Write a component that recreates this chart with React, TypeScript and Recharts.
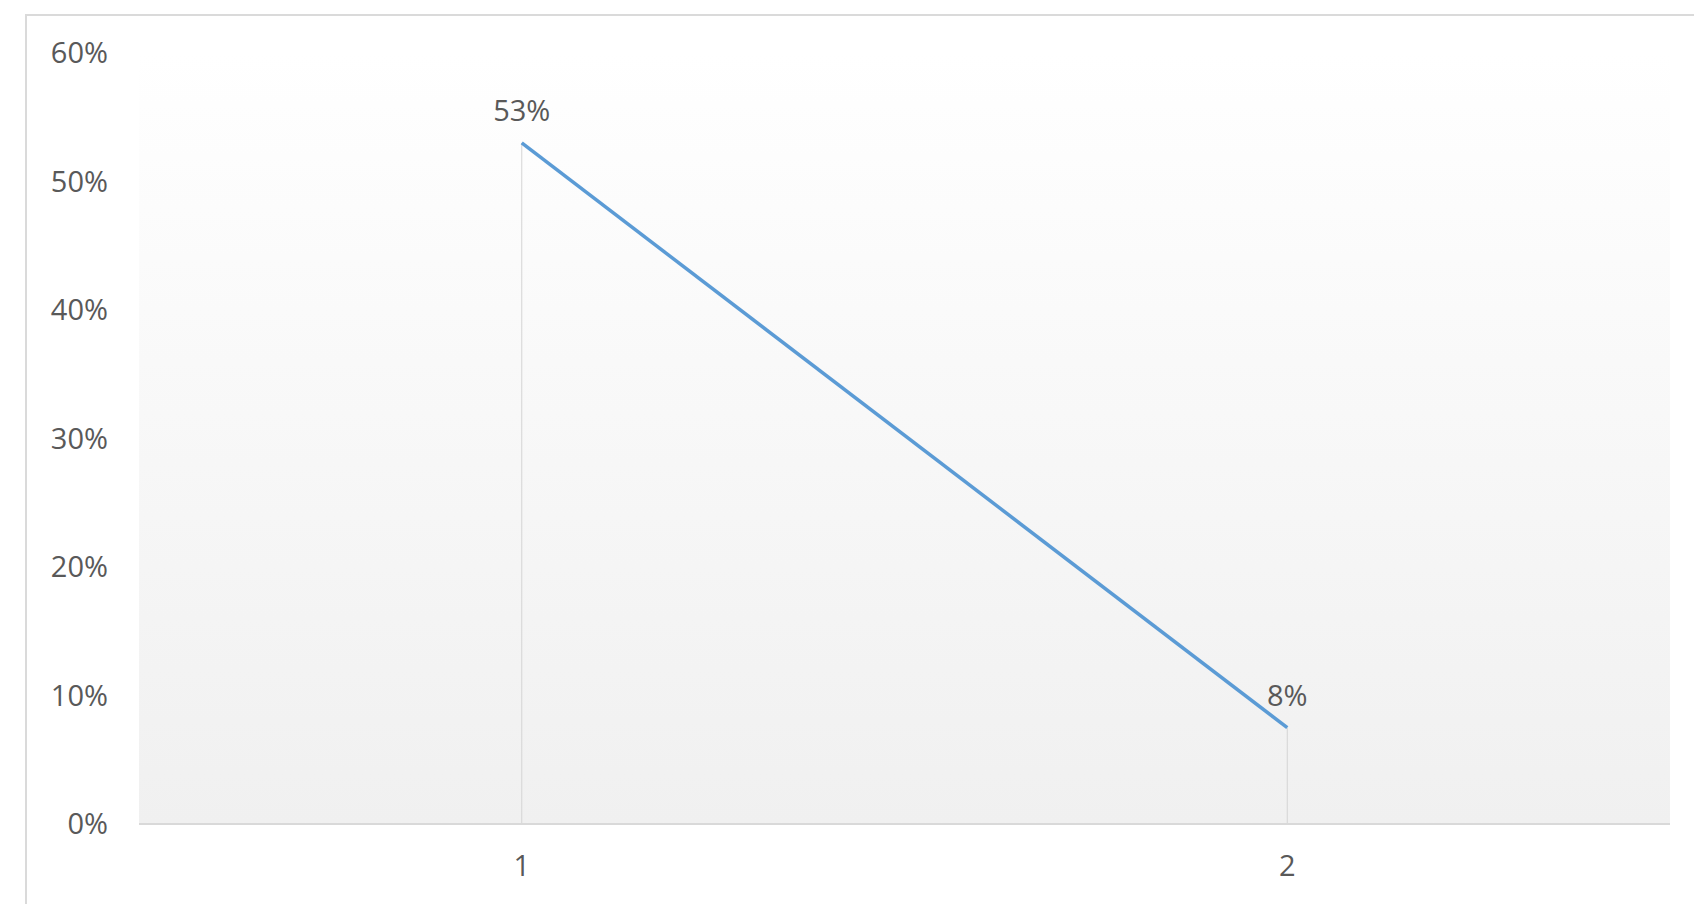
import React from "react";
import {
  LineChart,
  Line,
  CartesianGrid,
  XAxis,
  YAxis,
  ReferenceLine,
  LabelList
} from "recharts";

const categories = ["1", "2"];
const shares = [53, 7.5];
const yTicks = [0, 10, 20, 30, 40, 50, 60];

const data = categories.map((cat, i) => ({ cat, value: shares[i] }));

const FONT = "'Open Sans', 'Noto Sans', sans-serif";
const TEXT = "#595959";

const pct = (v: number) => `${Math.round(v)}%`;

export default function App() {
  return (
    <div
      style={{
        position: "fixed",
        left: 0,
        top: 0,
        width: 1694,
        height: 904,
        overflow: "hidden",
        background: "#fff"
      }}
    >
      {/* chart frame, runs off the right and bottom of the picture */}
      <div
        style={{
          position: "absolute",
          left: 25,
          top: 14,
          width: 1800,
          height: 1000,
          border: "2px solid #dadada"
        }}
      />
      <div style={{ position: "absolute", left: 0, top: 0 }}>
        <LineChart
          width={1694}
          height={904}
          data={data}
          margin={{ top: 53, right: 24, left: 0, bottom: 50 }}
        >
          <defs>
            <linearGradient id="plotBg" x1="0" y1="0" x2="0" y2="1">
              <stop offset="0%" stopColor="#ffffff" />
              <stop offset="100%" stopColor="#f0f0f0" />
            </linearGradient>
          </defs>
          <CartesianGrid horizontal={false} vertical={false} fill="url(#plotBg)" />
          <XAxis
            dataKey="cat"
            scale="band"
            height={30}
            axisLine={{ stroke: "#d9d9d9", strokeWidth: 2 }}
            tickLine={false}
            tickSize={0}
            tickMargin={31}
            tick={{ fill: TEXT, fontSize: 29, fontFamily: FONT }}
          />
          <YAxis
            width={139}
            domain={[0, 60]}
            ticks={yTicks}
            axisLine={false}
            tickLine={false}
            tickSize={0}
            tickMargin={31}
            tickFormatter={pct}
            tick={{ fill: TEXT, fontSize: 29, fontFamily: FONT }}
          />
          {categories.map((cat, i) => (
            <ReferenceLine
              key={cat}
              segment={[
                { x: cat, y: 0 },
                { x: cat, y: shares[i] }
              ]}
              stroke="#d4d4d4"
              strokeWidth={1}
            />
          ))}
          <Line
            type="linear"
            dataKey="value"
            stroke="#5b9bd5"
            strokeWidth={3.5}
            dot={false}
            activeDot={false}
            isAnimationActive={false}
          >
            <LabelList
              dataKey="value"
              position="top"
              offset={22}
              formatter={(v: any) => pct(Number(v))}
              style={{ fill: TEXT, fontSize: 29, fontFamily: FONT }}
            />
          </Line>
        </LineChart>
      </div>
    </div>
  );
}
